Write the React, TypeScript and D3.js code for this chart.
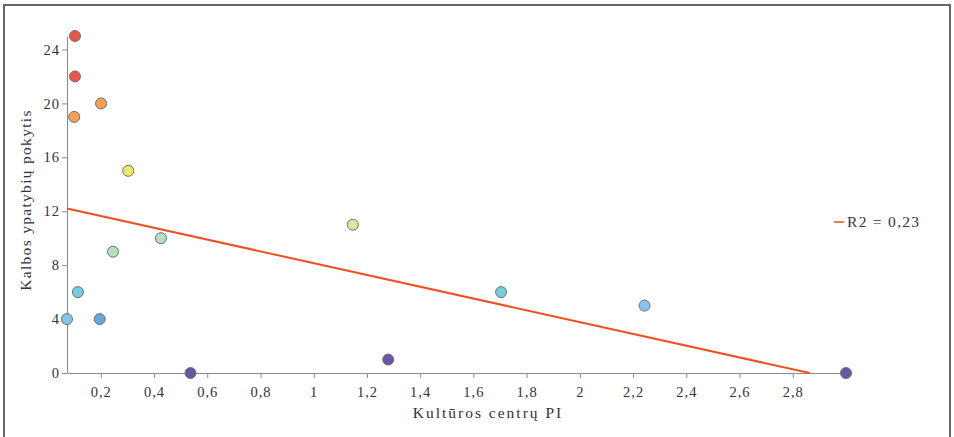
import { useRef, useEffect } from 'react';
import * as d3 from 'd3';

// Kultūros centrų PI (x) and kalbos ypatybių pokytis (y)
const xValues = [0.103, 0.103, 0.1, 0.201, 0.303, 0.246, 0.426, 1.147, 0.114, 0.073, 0.196, 0.537, 1.28, 1.704, 2.243, 3.0];
const yValues = [25, 22, 19, 20, 15, 9, 10, 11, 6, 4, 4, 0, 1, 6, 5, 0];
const pointColors = ['#e9574a', '#e9574a', '#f7a04f', '#f7a04f', '#eeea63', '#b5dfc1', '#b5dfc1', '#d8e6a0',
  '#72cfe0', '#83c5ec', '#5fa8e0', '#6a55a6', '#6a55a6', '#72cfe0', '#83c5ec', '#6a55a6'];

const xTicks = [0.2, 0.4, 0.6, 0.8, 1, 1.2, 1.4, 1.6, 1.8, 2, 2.2, 2.4, 2.6, 2.8];
const yTicks = [0, 4, 8, 12, 16, 20, 24];

// trend line end points
const trendX = [0.073, 2.864];
const trendY = [12.2, 0];
const legendLabel = 'R2 = 0,23';

function App() {
  const svgRef = useRef<SVGSVGElement>(null);

  useEffect(() => {
    const width = 954;
    const height = 437;
    const font = '"Liberation Serif", "DejaVu Serif", serif';

    const svg = d3.select(svgRef.current)
      .attr('width', width)
      .attr('height', height);
    svg.selectAll('*').remove();

    //Frame
    svg.append('rect')
      .attr('x', 4).attr('y', 5)
      .attr('width', 946).attr('height', 440)
      .attr('fill', 'white')
      .attr('stroke', '#666')
      .attr('stroke-width', 2);

    const x = d3.scaleLinear()
      .domain(d3.extent(xValues) as [number, number])
      .range([67, 846]);
    const y = d3.scaleLinear().domain([0, 25]).range([373, 36]);

    const fmt = (d: number) => String(d).replace('.', ',');

    //Axes
    const xAxis = svg.append('g')
      .attr('transform', `translate(0,${y(0)})`)
      .call(d3.axisBottom(x).tickValues(xTicks).tickFormat((d) => fmt(d as number)).tickSize(5).tickSizeOuter(0));
    const yAxis = svg.append('g')
      .attr('transform', `translate(${x.range()[0]},0)`)
      .call(d3.axisLeft(y).tickValues(yTicks).tickSize(5).tickSizeOuter(0));

    [xAxis, yAxis].forEach((a) => {
      a.select('.domain').attr('stroke', '#8a8a8a');
      a.selectAll('.tick line').attr('stroke', '#8a8a8a');
      a.selectAll('.tick text')
        .attr('fill', '#333')
        .attr('font-family', font)
        .attr('font-size', 14.5)
        .attr('letter-spacing', 1);
    });
    xAxis.selectAll('.tick text').attr('dy', '1.1em');
    yAxis.selectAll('.tick text').attr('x', -7);

    //Axis titles
    svg.append('text')
      .attr('x', 488)
      .attr('y', 418)
      .attr('text-anchor', 'middle')
      .attr('font-family', font)
      .attr('font-size', 15.5)
      .attr('letter-spacing', 2)
      .attr('fill', '#333')
      .text('Kultūros centrų PI');

    svg.append('text')
      .attr('transform', 'translate(31,200) rotate(-90)')
      .attr('text-anchor', 'middle')
      .attr('font-family', font)
      .attr('font-size', 15.5)
      .attr('letter-spacing', 1.3)
      .attr('fill', '#333')
      .text('Kalbos ypatybių pokytis');

    //Trend line
    svg.append('line')
      .attr('x1', x(trendX[0])).attr('y1', y(trendY[0]))
      .attr('x2', x(trendX[1])).attr('y2', y(trendY[1]))
      .attr('stroke', '#ef4f24')
      .attr('stroke-width', 2);

    //Points
    svg.append('g')
      .selectAll('circle')
      .data(xValues)
      .join('circle')
      .attr('cx', (d) => x(d))
      .attr('cy', (_, i) => y(yValues[i]))
      .attr('r', 5.5)
      .attr('fill', (_, i) => pointColors[i])
      .attr('stroke', '#707070')
      .attr('stroke-width', 1);

    //Legend
    const legend = svg.append('g').attr('transform', 'translate(834,222)');
    legend.append('line')
      .attr('x1', 0).attr('x2', 10)
      .attr('stroke', '#ef4f24')
      .attr('stroke-width', 1.5);
    legend.append('text')
      .attr('x', 13)
      .attr('y', 5)
      .attr('font-family', font)
      .attr('font-size', 15.5)
      .attr('letter-spacing', 1.3)
      .attr('fill', '#333')
      .text(legendLabel);
  }, []);

  return <svg ref={svgRef} style={{ position: 'absolute', left: 0, top: 0 }} />;
}

export default App;
